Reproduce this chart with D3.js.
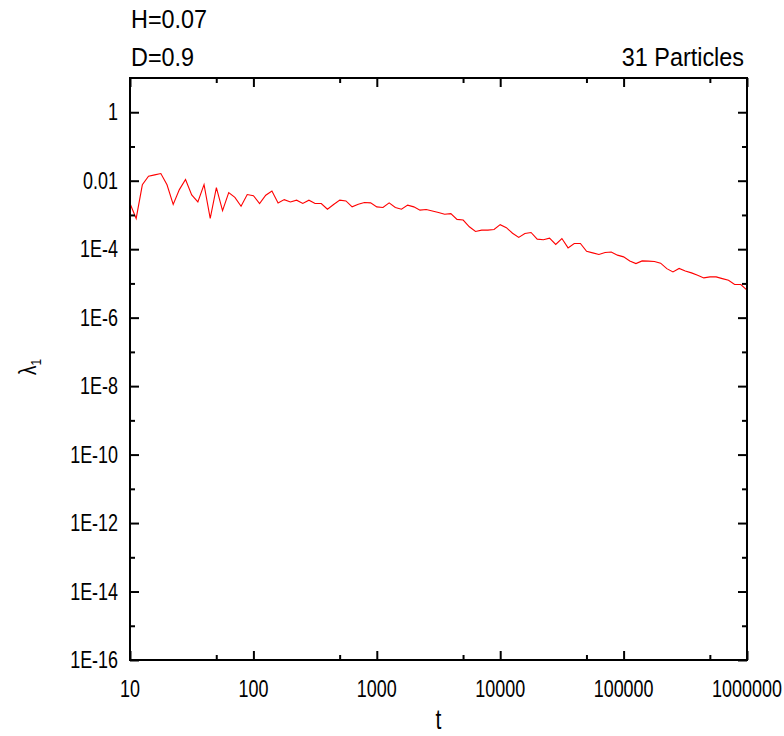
<!DOCTYPE html>
<html>
<head>
<meta charset="utf-8">
<script src="https://cdn.jsdelivr.net/npm/d3@7"></script>
<style>
  body { margin: 0; background: #fff; }
  svg text { font-family: "Liberation Sans", Arial, sans-serif; fill: #000; }
</style>
</head>
<body>
<div id="chart"></div>
<script>
// time steps t (log spaced, 20 per decade)
const tValues = [
  10, 11.22, 12.59, 14.13, 15.85, 17.78, 19.95, 22.39, 25.12, 28.18,
  31.62, 35.48, 39.81, 44.67, 50.12, 56.23, 63.10, 70.79, 79.43, 89.13,
  100, 112.2, 125.9, 141.3, 158.5, 177.8, 199.5, 223.9, 251.2, 281.8,
  316.2, 354.8, 398.1, 446.7, 501.2, 562.3, 631.0, 707.9, 794.3, 891.3,
  1000, 1122, 1259, 1413, 1585, 1778, 1995, 2239, 2512, 2818,
  3162, 3548, 3981, 4467, 5012, 5623, 6310, 7079, 7943, 8913,
  10000, 11220, 12590, 14130, 15850, 17780, 19950, 22390, 25120, 28180,
  31620, 35480, 39810, 44670, 50120, 56230, 63100, 70790, 79430, 89130,
  100000, 112200, 125900, 141300, 158500, 177800, 199500, 223900, 251200, 281800,
  316200, 354800, 398100, 446700, 501200, 562300, 631000, 707900, 794300, 891300,
  1000000
];
// largest Lyapunov exponent lambda_1
const lambdaValues = [
  2.16e-3, 7.9e-4, 7.6e-3, 1.35e-2, 1.48e-2, 1.62e-2, 7.6e-3, 2.02e-3, 5.5e-3, 1.08e-2,
  3.85e-3, 2.4e-3, 7.7e-3, 7.9e-4, 6.3e-3, 1.33e-3, 4.5e-3, 3.25e-3, 1.8e-3, 3.95e-3,
  3.65e-3, 2.16e-3, 3.77e-3, 5.0e-3, 2.25e-3, 2.8e-3, 2.4e-3, 2.7e-3, 2.16e-3, 2.7e-3,
  2.16e-3, 2.16e-3, 1.47e-3, 2.02e-3, 2.7e-3, 2.57e-3, 1.72e-3, 2.06e-3, 2.31e-3, 2.25e-3,
  1.72e-3, 1.65e-3, 2.25e-3, 1.65e-3, 1.47e-3, 1.93e-3, 1.72e-3, 1.38e-3, 1.44e-3, 1.31e-3,
  1.18e-3, 1.05e-3, 1.09e-3, 7.4e-4, 7.1e-4, 4.5e-4, 3.3e-4, 3.6e-4, 3.6e-4, 3.76e-4,
  5.2e-4, 4.25e-4, 2.93e-4, 2.2e-4, 2.87e-4, 3.07e-4, 1.96e-4, 1.89e-4, 2.1e-4, 1.37e-4,
  2.05e-4, 1.09e-4, 1.47e-4, 1.47e-4, 8.7e-5, 7.8e-5, 7.0e-5, 8.0e-5, 8.3e-5, 6.7e-5,
  5.96e-5, 4.5e-5, 3.8e-5, 4.55e-5, 4.47e-5, 4.37e-5, 3.9e-5, 2.7e-5, 2.17e-5, 2.73e-5,
  2.32e-5, 2.03e-5, 1.74e-5, 1.45e-5, 1.55e-5, 1.55e-5, 1.38e-5, 1.24e-5, 9.3e-6, 9.3e-6,
  6.4e-6
];

const xMajor = [10, 100, 1000, 10000, 100000, 1000000];
const xMinor = [50, 500, 5000, 50000, 500000];
const yMajor = [1e-16, 1e-14, 1e-12, 1e-10, 1e-8, 1e-6, 1e-4, 1e-2, 1];
const yMinor = [1e-15, 1e-13, 1e-11, 1e-9, 1e-7, 1e-5, 1e-3, 1e-1];
const yLabels = ["1E-16", "1E-14", "1E-12", "1E-10", "1E-8", "1E-6", "1E-4", "0.01", "1"];

const W = 784, H = 736;
const margin = {top: 78, right: 37, bottom: 76, left: 130};
const width = W - margin.left - margin.right,
      height = H - margin.top - margin.bottom;
const squeeze = 0.78;

const svg = d3.select("#chart").append("svg")
    .attr("width", W).attr("height", H);
const g = svg.append("g")
    .attr("transform", `translate(${margin.left},${margin.top})`);

const x = d3.scaleLog().domain([10, 1e6]).range([0, width]);
const y = d3.scaleLog().domain([1e-16, 10]).range([height, 0]);

// data line
const line = d3.line()
    .x((d, i) => x(tValues[i]))
    .y(d => y(d));
g.append("path")
    .datum(lambdaValues)
    .attr("fill", "none")
    .attr("stroke", "#ff0000")
    .attr("stroke-width", 1.1)
    .attr("d", line);

// axes with inward ticks on all sides
function styleAxis(sel) {
    sel.select(".domain").remove();
    sel.selectAll("line").attr("stroke", "#000").attr("stroke-width", 2);
}
const addAxis = (axis, tx, ty) => g.append("g")
    .attr("transform", `translate(${tx},${ty})`)
    .call(axis).call(styleAxis);

addAxis(d3.axisBottom(x).tickValues(xMajor).tickSize(-9).tickFormat(""), 0, height);
addAxis(d3.axisBottom(x).tickValues(xMinor).tickSize(-5).tickFormat(""), 0, height);
addAxis(d3.axisTop(x).tickValues(xMajor).tickSize(-9).tickFormat(""), 0, 0);
addAxis(d3.axisTop(x).tickValues(xMinor).tickSize(-5).tickFormat(""), 0, 0);
addAxis(d3.axisLeft(y).tickValues(yMajor).tickSize(-9).tickFormat(""), 0, 0);
addAxis(d3.axisLeft(y).tickValues(yMinor).tickSize(-5).tickFormat(""), 0, 0);
addAxis(d3.axisRight(y).tickValues(yMajor).tickSize(-9).tickFormat(""), width, 0);
addAxis(d3.axisRight(y).tickValues(yMinor).tickSize(-5).tickFormat(""), width, 0);

// frame
g.append("rect")
    .attr("width", width).attr("height", height)
    .attr("fill", "none").attr("stroke", "#000").attr("stroke-width", 2);

// tick labels (narrow font look)
g.append("g").selectAll("g")
    .data(xMajor).join("g")
    .attr("transform", d => `translate(${x(d)},${height + 37}) scale(${squeeze},1)`)
    .append("text")
    .attr("text-anchor", "middle")
    .attr("font-size", 23)
    .text(d => d3.format("d")(d));

g.append("g").selectAll("g")
    .data(yMajor).join("g")
    .attr("transform", d => `translate(-12,${y(d) + 8}) scale(${squeeze},1)`)
    .append("text")
    .attr("text-anchor", "end")
    .attr("font-size", 23)
    .text((d, i) => yLabels[i]);

// axis titles
svg.append("g")
    .attr("transform", `translate(${margin.left + width / 2},${H - 7}) scale(${squeeze},1)`)
    .append("text")
    .attr("text-anchor", "middle")
    .attr("font-size", 27)
    .text("t");

const yt = svg.append("g")
    .attr("transform", `translate(36,${margin.top + height / 2 - 2}) rotate(-90) scale(${squeeze},1)`)
    .append("text")
    .attr("text-anchor", "middle")
    .attr("font-size", 24);
yt.append("tspan").text("λ");
yt.append("tspan").attr("font-size", 15).attr("dy", 5).text("1");

// annotations
const topSqueeze = 0.9;
svg.append("g")
    .attr("transform", `translate(131,28) scale(${topSqueeze},1)`)
    .append("text").attr("font-size", 26).text("H=0.07");
svg.append("g")
    .attr("transform", `translate(131,66) scale(${topSqueeze},1)`)
    .append("text").attr("font-size", 26).text("D=0.9");
svg.append("g")
    .attr("transform", `translate(744,66) scale(${topSqueeze},1)`)
    .append("text").attr("font-size", 26).attr("text-anchor", "end").text("31 Particles");
</script>
</body>
</html>
